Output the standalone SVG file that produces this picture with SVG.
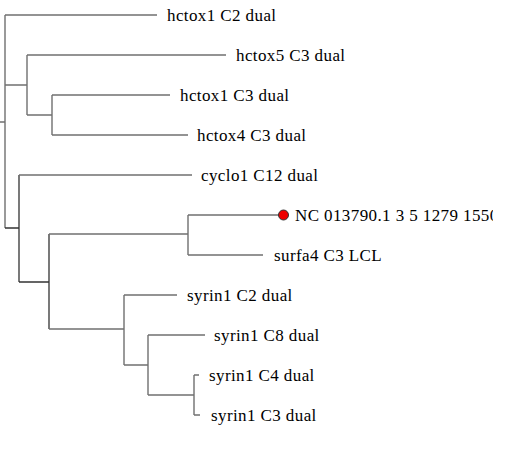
<svg xmlns="http://www.w3.org/2000/svg" width="519" height="460" viewBox="0 0 519 460">
<style>
.e{stroke:#707070;stroke-width:1.4;fill:none}
.d{stroke:#333;stroke-width:1.3;fill:none}
text{font-family:"Liberation Serif","Times New Roman",serif;font-size:17px;fill:#000;letter-spacing:0.4px}
</style>
<defs><clipPath id="c"><rect x="0" y="0" width="493" height="460"/></clipPath></defs>
<rect width="519" height="460" fill="#fff"/>
<g id="connectors">
<path class="e" d="M0,122H5M5,15V228M5,15H157M5,85H27M27,55V115M27,55H226M27,115H52M52,95V135M52,95H170M52,135H188"/>
<path class="d" d="M5,228H19M19,175V282M19,282H49M49,234V329"/>
<path class="e" d="M19,175H192M49,234H188M188,215V255M188,215H283M188,255H263M49,329H124M124,295V365M124,295H177M124,365H148M148,335V395M148,335H205M148,395H194M194,375V415M194,375H199M194,415H200"/>
</g>
<g id="n1"><text x="167" y="20.5">hctox1 C2 dual</text></g>
<g id="n2"><text x="236" y="60.5">hctox5 C3 dual</text></g>
<g id="n3"><text x="180" y="100.5">hctox1 C3 dual</text></g>
<g id="n4"><text x="197" y="140.5">hctox4 C3 dual</text></g>
<g id="n5"><text x="201" y="180.5">cyclo1 C12 dual</text></g>
<g id="n6" clip-path="url(#c)"><circle cx="283.5" cy="215" r="5" fill="#ee0000" stroke="#333" stroke-width="1"/><text x="295" y="220.5">NC 013790.1 3 5 1279 1550</text></g>
<g id="n7"><text x="274" y="260.5">surfa4 C3 LCL</text></g>
<g id="n8"><text x="187" y="300.5">syrin1 C2 dual</text></g>
<g id="n9"><text x="214" y="340.5">syrin1 C8 dual</text></g>
<g id="n10"><text x="209" y="380.5">syrin1 C4 dual</text></g>
<g id="n11"><text x="211" y="420.5">syrin1 C3 dual</text></g>
</svg>
